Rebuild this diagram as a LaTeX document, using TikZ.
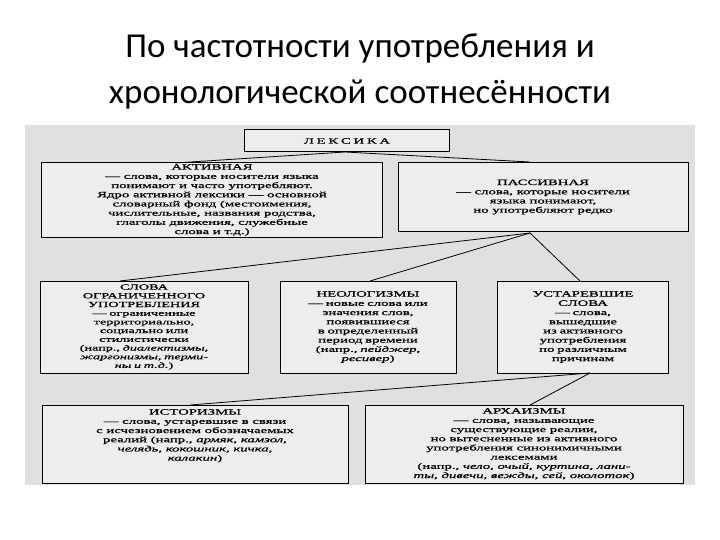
\documentclass[tikz,border=0pt]{standalone}
\usepackage{fontspec}
\setmainfont{Liberation Serif}
\newfontfamily\boxfont[FakeStretch=1.8,FakeBold=1]{Liberation Serif}
\newfontfamily\titlefont{Carlito}
\begin{document}
\begin{tikzpicture}[x=1pt,y=-1pt,
  box/.style={draw,line width=1pt,fill=white!93!black,align=center,inner sep=1pt,
    font=\boxfont\fontsize{8.2}{9.2}\selectfont},
  ln/.style={line width=0.8pt}]
\useasboundingbox (0,0) rectangle (720,540);
\fill[white] (0,0) rectangle (720,540);
\fill[black!12] (25,125) rectangle (695,485);
\node[font=\titlefont\fontsize{35}{46}\selectfont,align=center] (title) at (360,71)
  {По частотности употребления и\\хронологической соотнесённости};
\node[box,minimum width=205,minimum height=22] (lex) at (347,141) {Л\,\,Е\,\,К\,\,С\,\,И\,\,К\,\,А};
\node[box,minimum width=341,minimum height=74] (act) at (212,200)
 {АКТИВНАЯ\\— слова, которые носители языка\\понимают и часто употребляют.\\Ядро активной лексики — основной\\словарный фонд (местоимения,\\числительные, названия родства,\\глаголы движения, служебные\\слова и т.д.)};
\node[box,minimum width=290,minimum height=69] (pas) at (543,197)
 {ПАССИВНАЯ\\— слова, которые носители\\языка понимают,\\но употребляют редко};
\node[box,minimum width=208,minimum height=92,text width=204,font=\boxfont\fontsize{7.9}{8.7}\selectfont] (lim) at (144,327)
 {СЛОВА\\ОГРАНИЧЕННОГО\\УПОТРЕБЛЕНИЯ\\— ограниченные\\территориально,\\социально или\\стилистически\\(напр., \textit{диалектизмы,\\жаргонизмы, терми-\\ны и т.д.})};
\node[box,minimum width=176,minimum height=92,text width=172] (neo) at (368,327)
 {НЕОЛОГИЗМЫ\\— новые слова или\\значения слов,\\появившиеся\\в определенный\\период времени\\(напр., \textit{пейджер,\\ресивер})\\[9pt]};
\node[box,minimum width=171,minimum height=92,text width=167] (old) at (583,327)
 {УСТАРЕВШИЕ\\СЛОВА\\— слова,\\вышедшие\\из активного\\употребления\\по различным\\причинам\\[9pt]};
\node[box,minimum width=306,minimum height=78] (hist) at (195,444)
 {ИСТОРИЗМЫ\\— слова, устаревшие в связи\\с исчезновением обозначаемых\\реалий (напр., \textit{армяк, камзол,}\\\textit{челядь, кокошник, кичка,}\\\textit{калакин})\\[9pt]};
\node[box,minimum width=318,minimum height=78] (arch) at (524,444)
 {АРХАИЗМЫ\\— слова, называющие\\существующие реалии,\\но вытесненные из активного\\употребления синонимичными\\лексемами\\(напр., \textit{чело, очый, куртина, лани-}\\\textit{ты, дивечи, вежды, сей, околоток})};
\coordinate (lb) at (345,152);
\coordinate (pb) at (530,233);
\coordinate (ob) at (590,373);
\draw[ln] (lb) -- (175,163);
\draw[ln] (lb) -- (530,162);
\draw[ln] (pb) -- (120,281);
\draw[ln] (pb) -- (370,281);
\draw[ln] (pb) -- (580,281);
\draw[ln] (ob) -- (190,405);
\draw[ln] (ob) -- (530,405);
\end{tikzpicture}
\end{document}
